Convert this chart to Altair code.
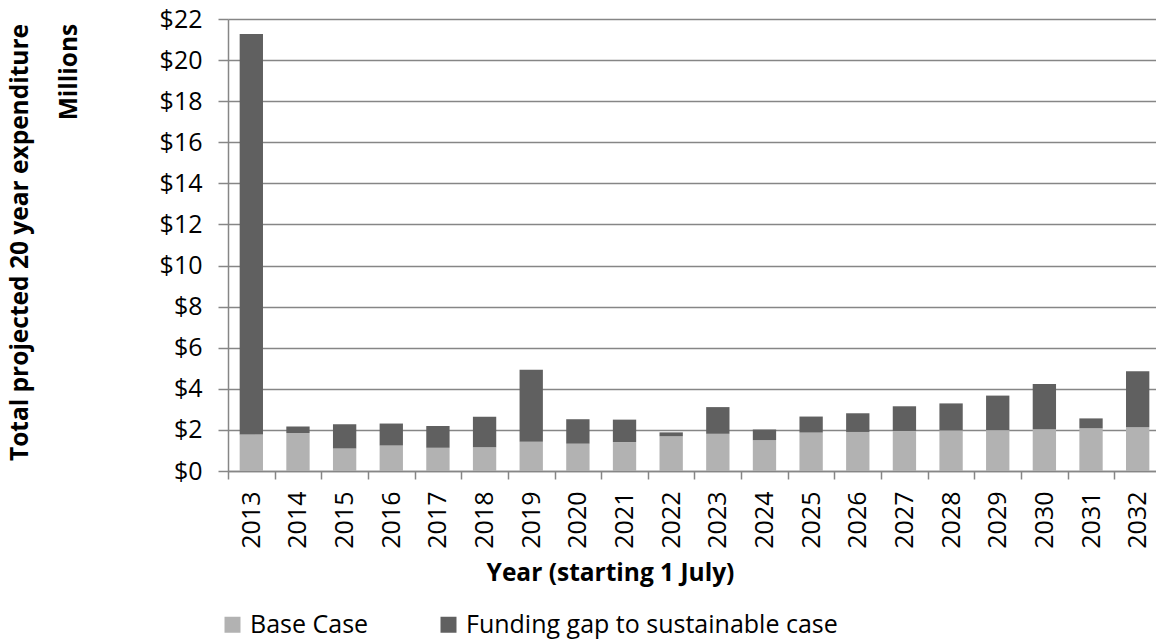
import altair as alt
import pandas as pd

# Financial years (starting 1 July)
years = [str(y) for y in range(2013, 2033)]

# Expenditure in $ millions
base_case = [1.78, 1.85, 1.10, 1.24, 1.13, 1.15, 1.42, 1.33, 1.41, 1.69,
             1.81, 1.50, 1.87, 1.90, 1.95, 1.98, 1.99, 2.03, 2.08, 2.13]
funding_gap = [19.49, 0.31, 1.18, 1.07, 1.06, 1.49, 3.51, 1.19, 1.09, 0.19,
               1.30, 0.52, 0.78, 0.91, 1.20, 1.31, 1.68, 2.21, 0.48, 2.73]

series_names = ["Base Case", "Funding gap to sustainable case"]
series_colors = ["#b2b2b2", "#606060"]

rows = []
for i, yr in enumerate(years):
    rows.append({"year": yr, "series": series_names[0], "value": base_case[i], "order": 0})
    rows.append({"year": yr, "series": series_names[1], "value": funding_gap[i], "order": 1})
df = pd.DataFrame(rows)

FONT = "Open Sans"
TITLE_SIZE = 24.5

bars = alt.Chart(df).mark_bar(width=alt.RelativeBandSize(0.5)).encode(
    x=alt.X(
        "year:N",
        sort=years,
        scale=alt.Scale(paddingInner=0, paddingOuter=0, range=[0, 933]),
        axis=alt.Axis(
            title="Year (starting 1 July)",
            labelAngle=270,
            labelAlign="right",
            labelBaseline="middle",
            labelPadding=12,
            tickBand="extent",
            tickSize=8,
            tickColor="#868686",
            tickWidth=1.5,
            domainColor="#868686",
            domainWidth=1.5,
            titleX=382,
            titleY=109,
            titleAlign="center",
            titleBaseline="alphabetic",
        ),
    ),
    y=alt.Y(
        "value:Q",
        stack="zero",
        scale=alt.Scale(domain=[0, 22], nice=False),
        axis=alt.Axis(
            title="Total projected 20 year expenditure",
            values=list(range(0, 23, 2)),
            labelExpr="'$' + datum.value",
            tickSize=10,
            labelPadding=16,
            tickColor="#868686",
            tickWidth=1.5,
            domainColor="#868686",
            domainWidth=1.5,
            gridColor="#868686",
            gridWidth=1.5,
            titleAngle=270,
            titleX=-208,
            titleY=223,
            titleAlign="center",
            titleBaseline="middle",
        ),
    ),
    color=alt.Color(
        "series:N",
        scale=alt.Scale(domain=series_names, range=series_colors),
        legend=alt.Legend(
            title=None,
            orient="none",
            direction="horizontal",
            legendX=-8,
            legendY=593,
            symbolType="square",
            symbolSize=256,
            symbolStrokeWidth=0,
            labelFontSize=25,
            labelFont=FONT,
            labelColor="#000000",
            labelOffset=5,
            labelLimit=0,
            columnPadding=67,
        ),
    ),
    order=alt.Order("order:Q", sort="ascending"),
)

units = alt.Chart(pd.DataFrame({"t": ["Millions"]})).mark_text(
    angle=270, font=FONT, fontSize=TITLE_SIZE, fontWeight="bold", color="#000000",
    align="center", baseline="middle",
).encode(text="t:N", x=alt.value(-158), y=alt.value(53))

chart = alt.layer(bars, units).properties(
    width=928,
    height=452,
    autosize=alt.AutoSizeParams(type="none"),
    padding={"left": 228, "top": 19, "right": 0, "bottom": 170},
).configure_view(stroke=None).configure_axis(
    labelFont=FONT,
    labelFontSize=25,
    labelColor="#000000",
    titleFont=FONT,
    titleFontSize=TITLE_SIZE,
    titleFontWeight="bold",
    titleColor="#000000",
    grid=False,
).configure_axisY(grid=True)

chart.save("out.html", embed_options={"renderer": "svg", "actions": False})
